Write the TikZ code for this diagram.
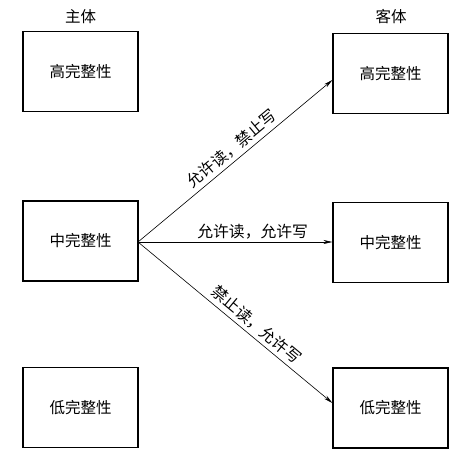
\documentclass[tikz,border=0pt]{standalone}
\usepackage{fontspec}
\newfontfamily\cjk{Noto Sans CJK SC}
\usetikzlibrary{arrows.meta}
\begin{document}
\begin{tikzpicture}[x=1pt,y=-1pt,
  levelbox/.style={draw,line width=1.2pt,minimum width=115pt,minimum height=80pt,inner sep=0pt,font=\cjk\fontsize{15.5}{16}\selectfont},
  head/.style={font=\cjk\fontsize{15.5}{16}\selectfont,inner sep=0pt},
  rel/.style={line width=0.6pt,-{Stealth[length=9pt,width=4pt]}},
  lbl/.style={font=\cjk\fontsize{15.8}{16}\selectfont,inner sep=2pt}]
\useasboundingbox (0,0) rectangle (476,465);
\node[head] (sub) at (80.5,17) {主体};
\node[head] (obj) at (391,17) {客体};
\node[levelbox] (sh) at (80.5,71.5) {高完整性};
\node[levelbox] (sm) at (80.5,241) {中完整性};
\node[levelbox] (sl) at (80.5,407.5) {低完整性};
\node[levelbox] (oh) at (390.5,73.5) {高完整性};
\node[levelbox] (om) at (390.5,242.5) {中完整性};
\node[levelbox] (ol) at (390.5,408) {低完整性};
\coordinate (src) at (138,242);
\draw[rel] (src) -- (oh.west |- 0,80) node[lbl,pos=0.52,sloped,above,yshift=2pt] {允许读，禁止写};
\draw[rel] (src) -- (om.west |- 0,242) node[lbl,pos=0.59,above,yshift=1pt] {允许读，允许写};
\draw[rel] (src) -- (ol.west |- 0,403) node[lbl,pos=0.57,sloped,above,yshift=2pt] {禁止读，允许写};
\end{tikzpicture}
\end{document}
